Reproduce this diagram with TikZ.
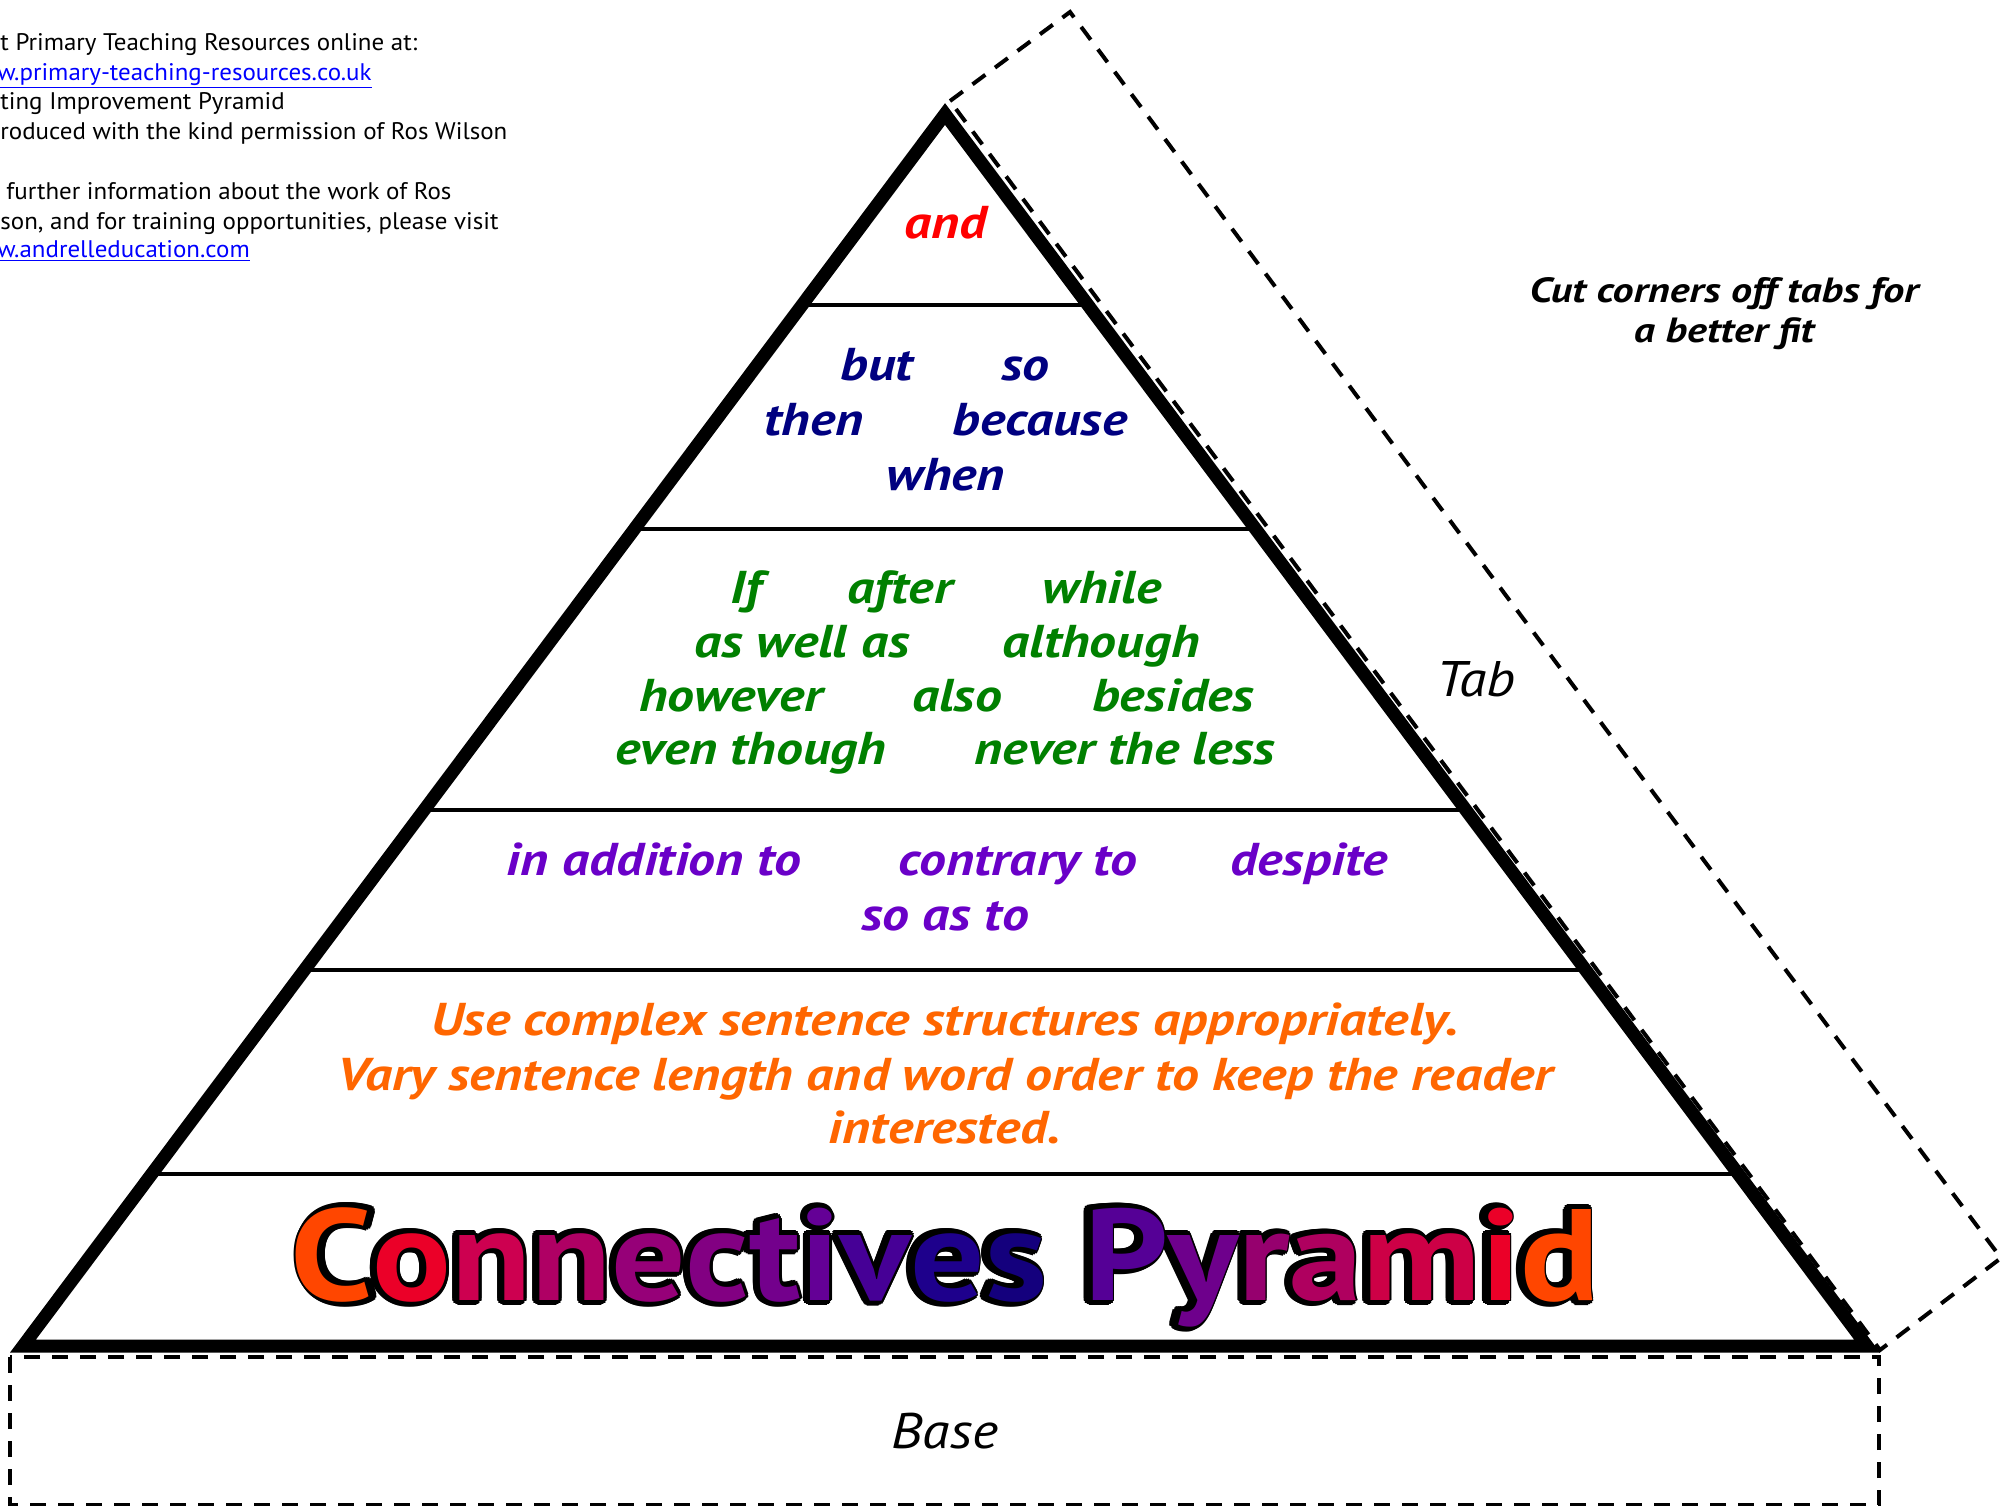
\documentclass[tikz,border=0pt]{standalone}
\usepackage{fontspec}
\setmainfont{PT Sans}
\newfontfamily\wordfont{PT Sans}[FakeStretch=1.17]
\newfontfamily\titlefont{PT Sans}[FakeStretch=1.13]
\newfontfamily\notefont{PT Sans}[FakeStretch=1.2]
\newfontfamily\labelfont{PT Sans}[FakeStretch=1.12]
\newfontfamily\infofont{PT Sans}[FakeStretch=1.04]
\definecolor{andred}{RGB}{255,0,0}
\definecolor{navyw}{RGB}{0,0,128}
\definecolor{greenw}{RGB}{0,128,0}
\definecolor{purplew}{RGB}{106,0,200}
\definecolor{orangew}{RGB}{255,102,0}
\definecolor{linkblue}{RGB}{0,0,255}
\newcommand\tcl[2]{{\color[RGB]{#1}#2}}
\newcommand\titlecoloured{\tcl{255,70,0}{C}\tcl{235,0,40}{o}\tcl{205,0,80}{n}\tcl{175,0,100}{n}\tcl{150,0,120}{e}\tcl{130,0,130}{c}\tcl{115,0,140}{t}\tcl{100,0,150}{i}\tcl{70,0,150}{v}\tcl{30,0,140}{e}\tcl{20,0,125}{s} \tcl{85,0,150}{P}\tcl{110,0,140}{y}\tcl{150,0,110}{r}\tcl{175,0,95}{a}\tcl{205,0,70}{m}\tcl{235,0,40}{i}\tcl{255,70,0}{d}}
\begin{document}
\begin{tikzpicture}[x=0.5pt,y=-0.5pt,
  tri/.style={line width=6.5pt, line join=miter},
  divider/.style={line width=2pt},
  cutline/.style={line width=2pt, dash pattern=on 8pt off 6pt},
  word/.style={anchor=base, inner sep=0pt, font=\wordfont\fontsize{23}{27}\selectfont\bfseries\itshape},
  info/.style={anchor=base west, inner sep=0pt, font=\infofont\fontsize{12}{14}\selectfont},
  note/.style={anchor=base, inner sep=0pt, font=\notefont\fontsize{17.5}{20}\selectfont\bfseries\itshape},
  label/.style={anchor=base, inner sep=0pt, font=\labelfont\fontsize{25}{29}\selectfont\itshape},
  titlef/.style={anchor=base, inner sep=0pt, font=\titlefont\fontsize{65}{70}\selectfont\bfseries}]
\useasboundingbox (0,0) rectangle (2010,1506);
\clip (0,0) rectangle (2010,1506);
% pyramid corners
\coordinate (L) at (23,1346);
\coordinate (R) at (1867,1346);
\coordinate (A) at (945,114);
% dividers
\begin{scope}
  \clip (L) -- (A) -- (R) -- cycle;
  \foreach \yy in {305,529,810,970,1174}
    \draw[divider] (0,\yy) -- (2010,\yy);
\end{scope}
\draw[tri] (L) -- (A) -- (R) -- cycle;
% tab
\coordinate (T1) at (950,101);
\coordinate (T2) at (1070,12);
\coordinate (T3) at (2001,1258);
\coordinate (T4) at (1880,1350);
\draw[cutline] (T1) -- (T2) -- (T3) -- (T4) -- cycle;
% base
\coordinate (B1) at (10,1357);
\coordinate (B2) at (1879,1505);
\draw[cutline] (B1) rectangle (B2);
% info text
\node[info] (i1) at (0,50) {t Primary Teaching Resources online at:};
\node[info, text=linkblue] (i2) at (-3,80) {\underline{w.primary-teaching-resources.co.uk}};
\node[info] (i3) at (0,109) {ting Improvement Pyramid};
\node[info] (i4) at (0,139) {roduced with the kind permission of Ros Wilson};
\node[info] (i5) at (6,199) {further information about the work of Ros};
\node[info] (i6) at (0,229) {son, and for training opportunities, please visit};
\node[info, text=linkblue] (i7) at (-3,257) {\underline{w.andrelleducation.com}};
% note
\node[note] (n1) at (1724,302) {Cut corners off tabs for};
\node[note] (n2) at (1724,342) {a better fit};
\node[label] (tab) at (1476,696) {Tab};
\node[label] (base) at (945,1448) {Base};
% level 1
\node[word, text=andred] (w1) at (946,238) {and};
% level 2
\node[word, text=navyw] (w2) at (877,380) {but};
\node[word, text=navyw] (w3) at (1025,380) {so};
\node[word, text=navyw] (w4) at (814,435) {then};
\node[word, text=navyw] (w5) at (1040,435) {because};
\node[word, text=navyw] (w6) at (946,490) {when};
% level 3
\node[word, text=greenw] (w7) at (746,603) {If};
\node[word, text=greenw] (w8) at (900,603) {after};
\node[word, text=greenw] (w9) at (1102,603) {while};
\node[word, text=greenw] (w10) at (802,657) {as well as};
\node[word, text=greenw] (w11) at (1101,657) {although};
\node[word, text=greenw] (w12) at (731,711) {however};
\node[word, text=greenw] (w13) at (957,711) {also};
\node[word, text=greenw] (w14) at (1173,711) {besides};
\node[word, text=greenw] (w15) at (751,764) {even though};
\node[word, text=greenw] (w16) at (1125,764) {never the less};
% level 4
\node[word, text=purplew] (w17) at (654,875) {in addition to};
\node[word, text=purplew] (w18) at (1018,875) {contrary to};
\node[word, text=purplew] (w19) at (1309,875) {despite};
\node[word, text=purplew] (w20) at (945,930) {so as to};
% level 5
\node[word, text=orangew] (s1) at (945,1035) {Use complex sentence structures appropriately.};
\node[word, text=orangew] (s2) at (945,1090) {Vary sentence length and word order to keep the reader};
\node[word, text=orangew] (s3) at (945,1143) {interested.};
% title: black outline copies behind, coloured letters on top
\foreach \ang in {0,22.5,...,337.5}{
  \node[titlef, text=black, shift={(\ang:2.5pt)}] at (945,1300) {Connectives Pyramid};
  \node[titlef, text=black, shift={(\ang:1.3pt)}] at (945,1300) {Connectives Pyramid};
}
\node[titlef] (title) at (945,1300) {\titlecoloured};
\end{tikzpicture}
\end{document}
